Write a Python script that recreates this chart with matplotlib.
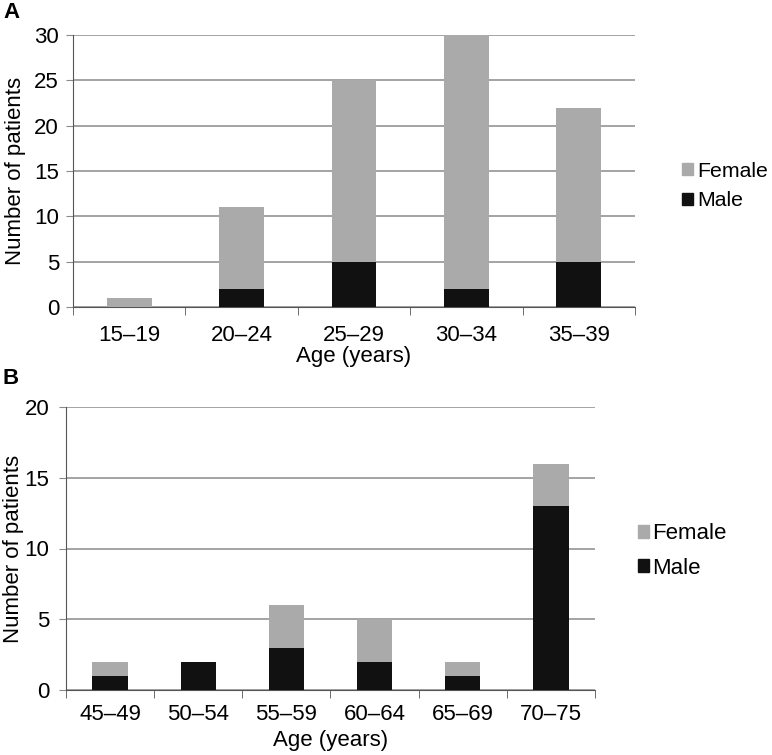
import numpy as np
import matplotlib.pyplot as plt
import matplotlib.transforms as mtransforms
from matplotlib.patches import Patch

plt.rcParams['font.family'] = ['Liberation Sans', 'DejaVu Sans']

# Panel A data
ages_a = ["15–19", "20–24", "25–29", "30–34", "35–39"]
male_a = [0, 2, 5, 2, 5]
female_a = [1, 9, 20, 28, 17]

# Panel B data
ages_b = ["45–49", "50–54", "55–59", "60–64", "65–69", "70–75"]
male_b = [1, 2, 3, 2, 1, 13]
female_b = [1, 0, 3, 3, 1, 3]

FEMALE = '#aaaaaa'
MALE = '#111111'
GRID = '#8a8a8a'
FS = 16

W, H = 772, 755
fig = plt.figure(figsize=(W / 100, H / 100), dpi=100)


def px_axes(x0, y0, x1, y1):
    return fig.add_axes([x0 / W, (H - y1) / H, (x1 - x0) / W, (y1 - y0) / H])


def draw_panel(ax, labels, male, female, ymax, step, legend_pos, ypad, xpad,
               xlabelpad, spacing, textpad, legend_fs, ylabel_x):
    x = np.arange(len(labels))
    ax.bar(x, male, width=0.4, color=MALE, zorder=3)
    ax.bar(x, female, width=0.4, bottom=male, color=FEMALE, zorder=3)
    ax.set_xlim(-0.5, len(labels) - 0.5)
    ax.set_ylim(0, ymax)
    ax.set_yticks(np.arange(0, ymax + 1, step))
    ax.yaxis.grid(True, color=GRID, linewidth=1.1, zorder=0)
    ax.set_axisbelow(True)
    ax.set_xticks(x)
    ax.set_xticklabels(labels)
    ax.set_xticks(np.arange(-0.5, len(labels), 1), minor=True)
    ax.tick_params(axis='x', which='major', length=0, pad=xpad, labelsize=FS)
    ax.tick_params(axis='x', which='minor', length=6, color='#555555', direction='out')
    ax.tick_params(axis='y', length=5, color=GRID, labelsize=FS, pad=ypad)
    for s in ['top', 'right']:
        ax.spines[s].set_visible(False)
    ax.spines['left'].set_color('#555555')
    ax.spines['bottom'].set_color('#555555')
    ax.set_xlabel('Age (years)', fontsize=FS, labelpad=xlabelpad)
    ax.set_ylabel('Number of patients', fontsize=FS, va='center')
    blend = mtransforms.blended_transform_factory(fig.transFigure, ax.transAxes)
    ax.yaxis.set_label_coords(ylabel_x / W, 0.5, transform=blend)
    handles = [Patch(color=FEMALE, label='Female'), Patch(color=MALE, label='Male')]
    ax.legend(handles=handles, loc='center left', bbox_to_anchor=legend_pos,
              frameon=False, fontsize=legend_fs, handlelength=0.5, handleheight=0.5,
              handletextpad=textpad, labelspacing=spacing, borderpad=0)


ax_a = px_axes(73, 35, 635, 307)
draw_panel(ax_a, ages_a, male_a, female_a, 30, 5, (1.065, 0.445), 5, 13, 0, 0.5, 0.22, 15.3, 16)

ax_b = px_axes(66, 407, 595, 690)
draw_panel(ax_b, ages_b, male_b, female_b, 20, 5, (1.06, 0.491), 7, 10, 4, 0.6, 0.15, FS, 14)

fig.text(3 / W, 1 - 12 / H, 'A', fontsize=FS, fontweight='bold', va='center')
fig.text(3 / W, 1 - 378 / H, 'B', fontsize=FS, fontweight='bold', va='center')

fig.savefig('out.png', dpi=100)
